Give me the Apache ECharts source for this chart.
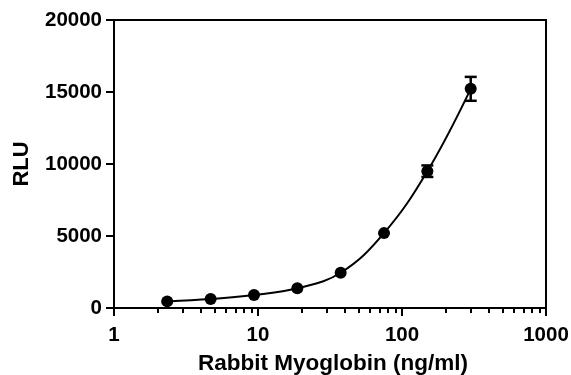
<!DOCTYPE html>
<html><head><meta charset="utf-8">
<script src="https://cdn.jsdelivr.net/npm/echarts@6/dist/echarts.min.js"></script>
<style>html,body{margin:0;padding:0;background:#fff}#c{width:571px;height:375px}</style>
</head><body><div id="c"></div>
<script>
var concentrations = [2.34, 4.69, 9.38, 18.75, 37.5, 75, 150, 300];
var rluMeans = [460, 620, 900, 1370, 2450, 5200, 9500, 15220];
var rluErrors = [0, 0, 0, 0, 0, 0, 400, 830];
var yTicks = [0, 5000, 10000, 15000, 20000];
var xMinorTicks = [2,3,4,5,6,7,8,9,20,30,40,50,60,70,80,90,200,300,400,500,600,700,800,900];
var xTitle = 'Rabbit Myoglobin (ng/ml)';
var yTitle = 'RLU';

var F = 'Liberation Sans, Arial, sans-serif';
var points = concentrations.map(function(x, i){ return [x, rluMeans[i]]; });
var errData = concentrations.map(function(x, i){ return [x, rluMeans[i] - rluErrors[i], rluMeans[i] + rluErrors[i]]; });

var chart = echarts.init(document.getElementById('c'));
chart.setOption({
  animation: false,
  grid: {left: 114, right: 25, top: 20, bottom: 67, show: true, borderColor: '#000', borderWidth: 2,
    containLabel: false, outerBoundsMode: 'none'},
  xAxis: [{
    type: 'log', logBase: 10, min: 1, max: 1000, position: 'bottom',
    name: xTitle, nameLocation: 'middle', nameGap: 44,
    nameTextStyle: {fontFamily: F, fontWeight: 'bold', fontSize: 22.5, color: '#000', padding: [0,0,0,6]},
    axisLine: {lineStyle: {color: '#000', width: 2}},
    axisTick: {length: 8, lineStyle: {color: '#000', width: 2}},
    axisLabel: {fontFamily: F, fontWeight: 'bold', fontSize: 20.5, color: '#000', margin: 17,
      formatter: function(v){ return String(v); }},
    splitLine: {show: false}
  }, {
    type: 'log', logBase: 10, min: 1, max: 1000, position: 'bottom',
    axisLine: {show: false},
    axisTick: {show: true, length: 5, customValues: xMinorTicks, lineStyle: {color: '#000', width: 2}},
    axisLabel: {show: false},
    splitLine: {show: false}
  }],
  yAxis: {
    type: 'value', min: yTicks[0], max: yTicks[yTicks.length-1], interval: 5000,
    name: yTitle, nameLocation: 'middle', nameGap: 81,
    nameTextStyle: {fontFamily: F, fontWeight: 'bold', fontSize: 22, color: '#000'},
    axisLine: {show: true, lineStyle: {color: '#000', width: 2}},
    axisTick: {show: true, length: 8, lineStyle: {color: '#000', width: 2}},
    axisLabel: {fontFamily: F, fontWeight: 'bold', fontSize: 20.5, color: '#000', margin: 12,
      formatter: function(v){ return String(v); }},
    splitLine: {show: false}
  },
  series: [{
    type: 'line', data: points, smooth: 0.4, symbol: 'circle', symbolSize: 12,
    itemStyle: {color: '#000'}, lineStyle: {color: '#000', width: 2}, z: 3
  }, {
    type: 'custom', data: errData, z: 4,
    renderItem: function(params, api){
      var x = api.value(0), lo = api.value(1), hi = api.value(2);
      if (hi - lo <= 0) return null;
      var pLo = api.coord([x, lo]), pHi = api.coord([x, hi]);
      var w = 6;
      var st = {stroke: '#000', lineWidth: 2.5, fill: null};
      return {type: 'group', children: [
        {type: 'line', shape: {x1: pLo[0], y1: pLo[1], x2: pHi[0], y2: pHi[1]}, style: st},
        {type: 'line', shape: {x1: pLo[0]-w, y1: pLo[1], x2: pLo[0]+w, y2: pLo[1]}, style: st},
        {type: 'line', shape: {x1: pHi[0]-w, y1: pHi[1], x2: pHi[0]+w, y2: pHi[1]}, style: st}
      ]};
    }
  }]
});
</script></body></html>
